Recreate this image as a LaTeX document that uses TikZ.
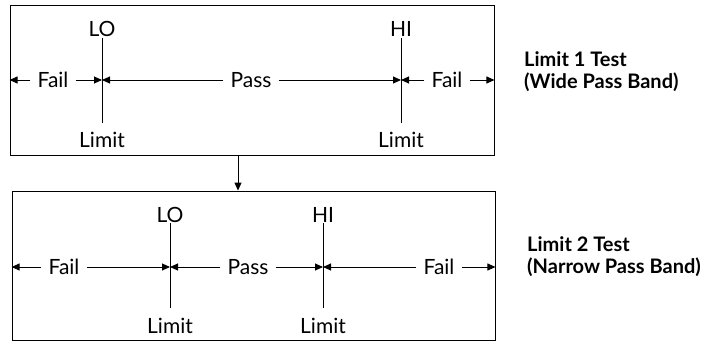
\documentclass[tikz,border=0pt]{standalone}
\usepackage{fontspec}
\setmainfont{Lato}
\usetikzlibrary{arrows.meta}
\tikzset{
  lbl/.style={font=\fontsize{21}{24}\selectfont, inner sep=0pt},
  bandlbl/.style={font=\fontsize{21}{24}\selectfont, inner ysep=0pt, inner xsep=7pt},
  title/.style={font=\bfseries\fontsize{20}{22}\selectfont, align=left, anchor=west, inner sep=0pt},
  box/.style={draw, line width=0.9pt, inner sep=0pt},
  arr/.style={line width=0.9pt, -{Triangle[length=8pt,width=7pt]}},
  lim/.style={line width=0.9pt},
}
\begin{document}
\begin{tikzpicture}[x=1pt,y=-1pt]
\useasboundingbox (0,0) rectangle (712,341);
% boxes
\node[box, minimum width=484pt, minimum height=150pt] (box1) at (252,80) {};
\node[box, minimum width=483pt, minimum height=149pt] (box2) at (253.5,265.5) {};
\coordinate (arrx) at (238,0);
\draw[arr] (box1.south -| arrx) -- (box2.north -| arrx);

% ---- Limit 1 test ----
\coordinate (l1l) at (box1.west |- 0,80);
\coordinate (l1r) at (box1.east |- 0,80);
\coordinate (lo1) at (102,80);
\coordinate (hi1) at (401,80);
\node[lbl] (lo1t) at (102,29) {LO};
\node[lbl] (lo1b) at (102,140) {Limit};
\node[lbl] (hi1t) at (401,29) {HI};
\node[lbl] (hi1b) at (401,140) {Limit};
\draw[lim] (102,38) -- (102,123);
\draw[lim] (401,38) -- (401,123);
\node[bandlbl] (f1a) at (53,80) {Fail};
\node[bandlbl] (p1) at (251,80) {Pass};
\node[bandlbl] (f1b) at (447,80) {Fail};
\draw[arr] (f1a.west) -- (l1l);
\draw[arr] (f1a.east) -- (lo1);
\draw[arr] (p1.west) -- (lo1);
\draw[arr] (p1.east) -- (hi1);
\draw[arr] (f1b.west) -- (hi1);
\draw[arr] (f1b.east) -- (l1r);
\node[title] (t1) at (524,72) {Limit 1 Test\\(Wide Pass Band)};

% ---- Limit 2 test ----
\coordinate (l2l) at (box2.west |- 0,267);
\coordinate (l2r) at (box2.east |- 0,267);
\coordinate (lo2) at (170,267);
\coordinate (hi2) at (323,267);
\node[lbl] (lo2t) at (170,215) {LO};
\node[lbl] (lo2b) at (170,326) {Limit};
\node[lbl] (hi2t) at (323,215) {HI};
\node[lbl] (hi2b) at (323,326) {Limit};
\draw[lim] (170,223) -- (170,308);
\draw[lim] (323,223) -- (323,308);
\node[bandlbl] (f2a) at (64,267) {Fail};
\node[bandlbl] (p2) at (248,267) {Pass};
\node[bandlbl] (f2b) at (439,267) {Fail};
\draw[arr] (f2a.west) -- (l2l);
\draw[arr] (f2a.east) -- (lo2);
\draw[arr] (p2.west) -- (lo2);
\draw[arr] (p2.east) -- (hi2);
\draw[arr] (f2b.west) -- (hi2);
\draw[arr] (f2b.east) -- (l2r);
\node[title] (t2) at (527,257) {Limit 2 Test\\(Narrow Pass Band)};
\end{tikzpicture}
\end{document}
